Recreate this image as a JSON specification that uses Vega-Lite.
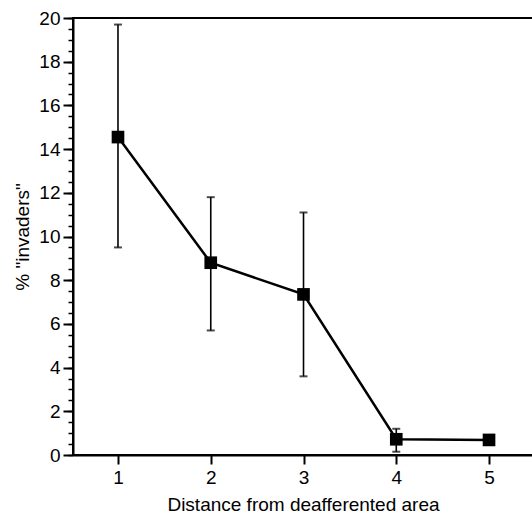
{
  "$schema": "https://vega.github.io/schema/vega-lite/v6.json",
  "autosize": {"type": "none"},
  "padding": {"left": 73, "top": 18, "right": 0, "bottom": 60},
  "width": 460,
  "height": 437,
  "background": "white",
  "config": {
    "font": "Liberation Sans",
    "view": {"stroke": "black", "strokeWidth": 2},
    "axis": {"grid": false, "domainColor": "black", "tickColor": "black", "labelColor": "black", "titleColor": "black", "labelFont": "Liberation Sans", "titleFont": "Liberation Sans", "titleFontWeight": "normal"}
  },
  "data": {"values": [
    {"distance": 1, "pct": 14.55, "lo": 9.5, "hi": 19.7},
    {"distance": 2, "pct": 8.8, "lo": 5.7, "hi": 11.8},
    {"distance": 3, "pct": 7.35, "lo": 3.6, "hi": 11.1},
    {"distance": 4, "pct": 0.72, "lo": 0.15, "hi": 1.2},
    {"distance": 5, "pct": 0.69, "lo": 0.6, "hi": 0.8}
  ]},
  "encoding": {
    "x": {"field": "distance", "type": "quantitative", "scale": {"domain": [0.515, 5.474], "nice": false, "zero": false},
      "axis": {"values": [1, 2, 3, 4, 5], "format": "d", "title": "Distance from deafferented area", "domainWidth": 2, "tickWidth": 2, "tickSize": 9, "labelFontSize": 19, "labelPadding": 4, "titleFontSize": 19, "titlePadding": 8}}
  },
  "layer": [
    {
      "mark": {"type": "rule", "strokeWidth": 1.6, "color": "black"},
      "encoding": {
        "y": {"field": "lo", "type": "quantitative", "scale": {"domain": [0, 20], "nice": false},
          "axis": {"values": [0, 2, 4, 6, 8, 10, 12, 14, 16, 18, 20], "title": "% \"invaders\"", "domainWidth": 2, "tickWidth": 2, "tickSize": 10, "labelFontSize": 19, "labelPadding": 3, "titleFontSize": 19, "titlePadding": 6}},
        "y2": {"field": "hi"}
      }
    },
    {
      "mark": {"type": "tick", "orient": "horizontal", "size": 8, "thickness": 2, "color": "black"},
      "encoding": {"y": {"field": "lo", "type": "quantitative", "axis": {"orient": "left", "values": [0, 0.5, 1, 1.5, 2, 2.5, 3, 3.5, 4, 4.5, 5, 5.5, 6, 6.5, 7, 7.5, 8, 8.5, 9, 9.5, 10, 10.5, 11, 11.5, 12, 12.5, 13, 13.5, 14, 14.5, 15, 15.5, 16, 16.5, 17, 17.5, 18, 18.5, 19, 19.5, 20], "labels": false, "domain": false, "title": null, "tickSize": 5, "tickWidth": 1.5}}}
    },
    {
      "mark": {"type": "tick", "orient": "horizontal", "size": 8, "thickness": 2, "color": "black"},
      "encoding": {"y": {"field": "hi", "type": "quantitative", "axis": null}}
    },
    {
      "mark": {"type": "line", "strokeWidth": 2.5, "color": "black"},
      "encoding": {"y": {"field": "pct", "type": "quantitative", "axis": null}}
    },
    {
      "mark": {"type": "point", "shape": "square", "filled": true, "size": 160, "opacity": 1, "color": "black"},
      "encoding": {"y": {"field": "pct", "type": "quantitative", "axis": null}}
    }
  ],
  "resolve": {"axis": {"y": "independent"}}
}
